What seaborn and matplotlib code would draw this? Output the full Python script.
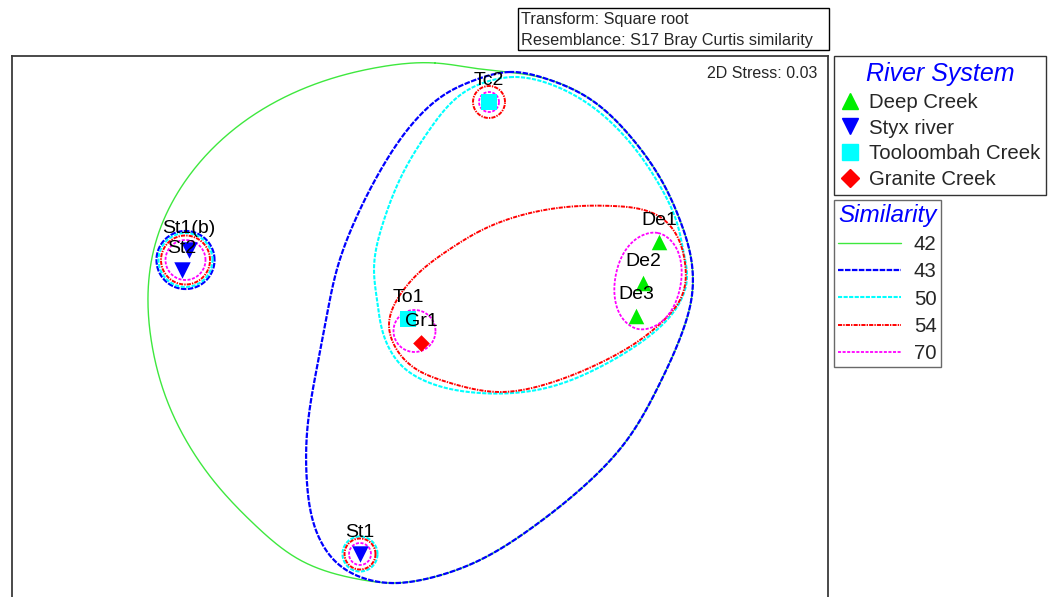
import numpy as np
import pandas as pd
import matplotlib
matplotlib.use("Agg")
import matplotlib.pyplot as plt
from matplotlib.lines import Line2D
from matplotlib.patches import Rectangle
import seaborn as sns

# ---- nMDS ordination of sites (square-root transform, Bray-Curtis) ----
samples = ["De1", "De2", "De3", "St1(b)", "St2", "St1", "Tc2", "To1", "Gr1"]
rivers = ["Deep Creek", "Deep Creek", "Deep Creek",
          "Styx river", "Styx river", "Styx river",
          "Tooloombah Creek", "Tooloombah Creek", "Granite Creek"]
mds1 = [2.39, 2.23, 2.16, -2.31, -2.38, -0.60, 0.69, -0.12, 0.01]
mds2 = [0.58, 0.17, -0.16, 0.50, 0.30, -2.54, 1.98, -0.19, -0.43]

river_order = ["Deep Creek", "Styx river", "Tooloombah Creek", "Granite Creek"]
similarity_levels = [42, 43, 50, 54, 70]
stress = 0.03

# Cluster similarity contours (outline vertices in ordination units)
contour_42 = [(0.15, 2.37), (-0.40, 2.33), (-0.90, 2.21), (-1.57, 1.91),
              (-2.07, 1.52), (-2.40, 1.11), (-2.63, 0.62), (-2.72, 0.05),
              (-2.68, -0.45), (-2.55, -0.95), (-2.33, -1.42), (-2.03, -1.85),
              (-1.65, -2.25), (-1.20, -2.60), (-0.57, -2.80), (-0.30, -2.83),
              (0.10, -2.78), (0.60, -2.60), (1.13, -2.27), (1.63, -1.87),
              (2.07, -1.40), (2.40, -0.83), (2.62, -0.33), (2.72, 0.05),
              (2.71, 0.42), (2.61, 0.77), (2.43, 1.17), (2.10, 1.64),
              (1.70, 2.01), (1.27, 2.21), (1.03, 2.26), (0.60, 2.31)]
contour_43 = [(0.90, 2.28), (0.55, 2.20), (0.27, 2.07), (-0.07, 1.77),
              (-0.37, 1.34), (-0.63, 0.84), (-0.83, 0.31), (-0.94, -0.20),
              (-1.03, -0.67), (-1.13, -1.33), (-1.13, -1.83), (-1.03, -2.33),
              (-0.83, -2.63), (-0.57, -2.78), (-0.30, -2.83), (0.10, -2.78),
              (0.60, -2.60), (1.13, -2.27), (1.63, -1.87), (2.07, -1.40),
              (2.40, -0.83), (2.62, -0.33), (2.72, 0.05), (2.71, 0.42),
              (2.61, 0.77), (2.43, 1.17), (2.10, 1.64), (1.70, 2.01),
              (1.27, 2.21)]
contour_50 = [(0.93, 2.23), (0.77, 2.21), (0.43, 2.07), (0.10, 1.71),
              (-0.17, 1.27), (-0.37, 0.77), (-0.46, 0.31), (-0.43, 0.00),
              (-0.37, -0.33), (-0.17, -0.67), (0.10, -0.83), (0.60, -0.93),
              (1.30, -0.87), (1.80, -0.67), (2.20, -0.43), (2.47, -0.20),
              (2.61, 0.00), (2.67, 0.22), (2.64, 0.46), (2.57, 0.77),
              (2.40, 1.14), (2.07, 1.61), (1.67, 1.97), (1.27, 2.17)]
contour_54 = [(0.60, 0.69), (0.30, 0.51), (0.03, 0.31), (-0.18, 0.08),
              (-0.31, -0.25), (-0.23, -0.50), (-0.07, -0.67), (0.27, -0.82),
              (0.80, -0.92), (1.30, -0.83), (1.80, -0.63), (2.20, -0.40),
              (2.47, -0.17), (2.60, 0.00), (2.65, 0.15), (2.65, 0.37),
              (2.57, 0.64), (2.43, 0.81), (2.20, 0.91), (1.93, 0.94),
              (1.60, 0.94), (1.10, 0.87)]
contour_70_deep = [(2.38, 0.67), (2.53, 0.57), (2.61, 0.37), (2.60, 0.12),
                   (2.51, -0.11), (2.35, -0.26), (2.18, -0.29), (2.03, -0.19),
                   (1.95, 0.01), (1.96, 0.26), (2.05, 0.49), (2.21, 0.64)]

# Small clusters enclosed by ring contours: (similarity level, members)
ring_levels = [43, 50, 54, 70, 50, 54, 70, 54, 70, 70]
ring_members = [["St1(b)", "St2"], ["St1(b)", "St2"], ["St1(b)", "St2"],
                ["St1(b)", "St2"], ["St1"], ["St1"], ["St1"],
                ["Tc2"], ["Tc2"], ["To1", "Gr1"]]

# ---- styling ----
river_colors = {"Deep Creek": "#00EE00", "Styx river": "#0000FF",
                "Tooloombah Creek": "#00FFFF", "Granite Creek": "#FF0000"}
river_markers = {"Deep Creek": "^", "Styx river": "v",
                 "Tooloombah Creek": "s", "Granite Creek": "D"}
river_sizes = {"Deep Creek": 125, "Styx river": 140,
               "Tooloombah Creek": 130, "Granite Creek": 72}
level_style = {
    42: dict(color="#3EE83E", lw=1.0, dashes=None),
    43: dict(color="#0000FF", lw=1.6, dashes=(4.0, 1.0)),
    50: dict(color="#00FFFF", lw=1.5, dashes=(3.0, 1.0)),
    54: dict(color="#FF0000", lw=1.4, dashes=(3.0, 0.8, 1.0, 0.8)),
    70: dict(color="#FF00FF", lw=1.3, dashes=(2.2, 1.1)),
}
level_z = {42: 2, 43: 3, 50: 4, 54: 5, 70: 6}
ring_radius = [0.29, 0.27, 0.245, 0.20, 0.175, 0.155, 0.11, 0.16, 0.10, 0.21]

sns.set_style("white")
plt.rcParams["font.family"] = ["Liberation Sans", "DejaVu Sans"]
plt.rcParams["lines.scale_dashes"] = False

df = pd.DataFrame({"sample": samples, "river": rivers, "MDS1": mds1, "MDS2": mds2})


def closed_spline(pts, n=800):
    """Periodic cubic spline (chord-length parameter) through outline vertices."""
    P = np.asarray(pts, float)
    m = len(P)
    h = np.linalg.norm(np.roll(P, -1, axis=0) - P, axis=1)
    t = np.concatenate([[0.0], np.cumsum(h)])
    A = np.zeros((m, m))
    rhs = np.zeros((m, 2))
    for i in range(m):
        hp, hn = h[i - 1], h[i]
        A[i, (i - 1) % m] += hp
        A[i, i] += 2 * (hp + hn)
        A[i, (i + 1) % m] += hn
        rhs[i] = 6 * ((P[(i + 1) % m] - P[i]) / hn - (P[i] - P[i - 1]) / hp)
    M = np.linalg.solve(A, rhs)
    s = np.linspace(0, t[-1], n)
    idx = np.clip(np.searchsorted(t, s, side="right") - 1, 0, m - 1)
    j = (idx + 1) % m
    hi = h[idx][:, None]
    a = (t[idx + 1][:, None] - s[:, None])
    b = (s[:, None] - t[idx][:, None])
    out = (M[idx] * a ** 3 / (6 * hi) + M[j] * b ** 3 / (6 * hi)
           + (P[idx] / hi - M[idx] * hi / 6) * a
           + (P[j] / hi - M[j] * hi / 6) * b)
    return out[:, 0], out[:, 1]


def draw_contour(ax, x, y, level):
    st = level_style[level]
    line, = ax.plot(x, y, color=st["color"], lw=st["lw"], zorder=level_z[level])
    if st["dashes"] is not None:
        line.set_dashes(st["dashes"])


fig = plt.figure(figsize=(10.49, 5.97), dpi=100)
W, H = 1049, 597
ax = fig.add_axes([12 / W, -12 / H, 816 / W, (541 + 12) / H])
ax.set_xlim(-4.08, 4.08)
ax.set_ylim(-3.09, 2.44)
ax.set_xticks([])
ax.set_yticks([])
for side, sp in ax.spines.items():
    sp.set_color("#3a3a3a")
    sp.set_linewidth(1.3)

# contours
for level, outline in [(42, contour_42), (43, contour_43), (50, contour_50),
                       (54, contour_54), (70, contour_70_deep)]:
    cx, cy = closed_spline(outline)
    draw_contour(ax, cx, cy, level)

theta = np.linspace(0, 2 * np.pi, 200)
pos = df.set_index("sample")
for level, members, r in zip(ring_levels, ring_members, ring_radius):
    c1 = pos.loc[members, "MDS1"].mean()
    c2 = pos.loc[members, "MDS2"].mean()
    draw_contour(ax, c1 + r * np.cos(theta), c2 + r * np.sin(theta), level)

# sample points
for rv in river_order:
    sub = df[df["river"] == rv]
    sns.scatterplot(data=sub, x="MDS1", y="MDS2", ax=ax, color=river_colors[rv],
                    marker=river_markers[rv], s=river_sizes[rv], linewidth=0,
                    zorder=8, legend=False)
ax.set_xlabel("")
ax.set_ylabel("")

for s, x, y in zip(samples, mds1, mds2):
    ax.annotate(s, (x, y), xytext=(0, 12), textcoords="offset points",
                ha="center", va="baseline", fontsize=14, color="black", zorder=10)

ax.text(0.9865, 0.960, f"2D Stress: {stress:.2f}", transform=ax.transAxes,
        ha="right", va="baseline", fontsize=11.5)

# transform / resemblance note
fig.add_artist(Rectangle((518 / W, 1 - 50 / H), 311 / W, 42 / H,
                         transform=fig.transFigure, fc="white", ec="black", lw=1.0))
fig.text(521 / W, 1 - 24 / H, "Transform: Square root", fontsize=11.7, va="baseline")
fig.text(521 / W, 1 - 45 / H, "Resemblance: S17 Bray Curtis similarity",
         fontsize=11.7, va="baseline")

# legends
river_handles = [Line2D([], [], marker=river_markers[rv], color=river_colors[rv],
                        linestyle="none",
                        markersize=(8.8 if rv == "Granite Creek" else 11.5))
                 for rv in river_order]
leg1 = fig.legend(river_handles, river_order, loc="upper left",
                  bbox_to_anchor=(834 / W, 1 - 56 / H), borderaxespad=0,
                  fontsize=14.7, title="River System",
                  title_fontproperties=dict(style="italic", size=18),
                  frameon=True, fancybox=False, edgecolor="black",
                  borderpad=0.3, labelspacing=0.33, handletextpad=0.4,
                  handlelength=1.0)
leg1.get_title().set_color("#0000FF")
leg1.get_frame().set_linewidth(1.0)

sim_handles = []
for lv in similarity_levels:
    st = level_style[lv]
    h = Line2D([], [], color=st["color"], lw=st["lw"])
    if st["dashes"] is not None:
        h.set_dashes(st["dashes"])
    sim_handles.append(h)
leg2 = fig.legend(sim_handles, [str(v) for v in similarity_levels], loc="upper left",
                  bbox_to_anchor=(834 / W, 1 - 200 / H), borderaxespad=0,
                  fontsize=14.7, title="Similarity",
                  title_fontproperties=dict(style="italic", size=17.5),
                  frameon=True, fancybox=False, edgecolor="#444444",
                  borderpad=0.2, labelspacing=0.4, handletextpad=0.6,
                  handlelength=3.1)
leg2.get_title().set_color("#0000FF")
leg2.get_frame().set_linewidth(1.0)

fig.savefig("out.png", dpi=100)
